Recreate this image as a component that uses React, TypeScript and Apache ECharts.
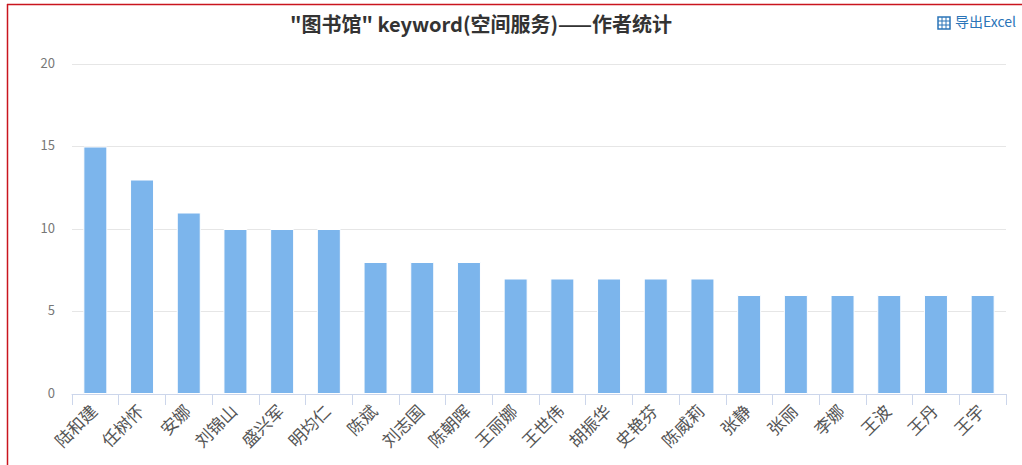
import React, { useEffect, useRef } from "react";
import * as echarts from "echarts";

const authors = ["陆和建","任树怀","安娜","刘锦山","盛兴军","明均仁","陈斌","刘志国","陈朝晖","王丽娜","王世伟","胡振华","史艳芬","陈威莉","张静","张丽","李娜","王波","王丹","王宇"];
const counts = [15,13,11,10,10,10,8,8,8,7,7,7,7,7,6,6,6,6,6,6];
const yTicks = [0, 5, 10, 15, 20];
const FONT = '"Noto Sans CJK SC", "Open Sans", sans-serif';

export default function App() {
  const ref = useRef<HTMLDivElement>(null);
  useEffect(() => {
    document.body.style.margin = "0";
    const chart = echarts.init(ref.current!, undefined, { renderer: "svg" });
    chart.setOption({
      animation: false,
      backgroundColor: "#ffffff",
      title: {
        text: '"图书馆" keyword(空间服务)——作者统计',
        left: 476, top: 8, textAlign: "center",
        textStyle: { fontFamily: FONT, fontSize: 20, fontWeight: "bold", color: "#333333" },
      },
      grid: { left: 72, right: 16, top: 64, bottom: 71 },
      xAxis: {
        type: "category", data: authors,
        axisLine: { lineStyle: { color: "#ccd6eb", width: 1 } },
        axisTick: { show: true, length: 11, lineStyle: { color: "#ccd6eb" } },
        axisLabel: { rotate: 45, interval: 0, margin: 11, padding: [0, 3, 0, 0], fontFamily: FONT, fontSize: 17, color: "#555555" },
      },
      yAxis: {
        type: "value", min: yTicks[0], max: yTicks[yTicks.length - 1], interval: 5,
        axisLine: { show: false }, axisTick: { show: false },
        axisLabel: { margin: 17, fontFamily: FONT, fontSize: 13, color: "#777777", verticalAlign: "bottom", lineHeight: 4 },
        splitLine: { lineStyle: { color: "#e6e6e6", width: 1 } },
      },
      series: [{
        type: "bar", data: counts, barWidth: 24,
        itemStyle: { color: "#7cb5ec", borderColor: "#ffffff", borderWidth: 1 },
      }],
      graphic: [
        { type: "line", shape: { x1: 7, y1: 4.5, x2: 1022, y2: 4.5 }, style: { stroke: "#c9151e", lineWidth: 1.5 } },
        { type: "line", shape: { x1: 7.5, y1: 4, x2: 7.5, y2: 465 }, style: { stroke: "#c9151e", lineWidth: 1.5 } },
        { type: "rect", shape: { x: 938, y: 17, width: 12, height: 12 }, style: { fill: "none", stroke: "#2a74b8", lineWidth: 1.5 } },
        { type: "line", shape: { x1: 938, y1: 21, x2: 950, y2: 21 }, style: { stroke: "#2a74b8", lineWidth: 1 } },
        { type: "line", shape: { x1: 938, y1: 25, x2: 950, y2: 25 }, style: { stroke: "#2a74b8", lineWidth: 1 } },
        { type: "line", shape: { x1: 942, y1: 17, x2: 942, y2: 29 }, style: { stroke: "#2a74b8", lineWidth: 1 } },
        { type: "line", shape: { x1: 946, y1: 17, x2: 946, y2: 29 }, style: { stroke: "#2a74b8", lineWidth: 1 } },
        { type: "text", x: 955, y: 14, style: { text: "导出Excel", fontFamily: FONT, fontSize: 14, fill: "#2a74b8" } },
      ],
    });
    return () => chart.dispose();
  }, []);
  return <div ref={ref} style={{ width: 1022, height: 465 }} />;
}
